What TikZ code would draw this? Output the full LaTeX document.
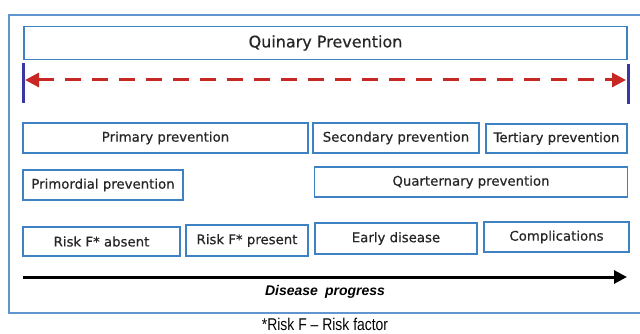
\documentclass[tikz,border=0pt]{standalone}
\usepackage{fontspec}
\setmainfont[FakeBold=0.5]{DejaVu Sans}
\newfontfamily\arialfont{Liberation Sans}
\newfontfamily\notefont[FakeStretch=0.82]{Liberation Sans}
\usetikzlibrary{arrows.meta}
\definecolor{boxblue}{RGB}{62,130,195}
\definecolor{framblue}{RGB}{95,150,205}
\definecolor{barblue}{RGB}{55,55,165}
\definecolor{dashred}{RGB}{200,40,35}

\begin{document}
\begin{tikzpicture}[x=1pt, y=-1pt,
            every node/.style = {draw=boxblue, line width=1.3pt, rectangle,
                                 inner sep=0pt, text=black!85, font=\fontsize{13.3}{16}\selectfont},
            bar/.style = {draw=barblue, line width=3pt},
            span/.style = {draw=dashred, line width=3pt, dash pattern=on 16pt off 11pt,
                           {Triangle[length=14pt,width=14pt]}-{Triangle[length=14pt,width=14pt]}},
            progress/.style = {draw=black, line width=3pt, -{Triangle[length=13pt,width=13pt]}}]
\useasboundingbox (0,0) rectangle (640,334);
\draw[framblue, line width=1.3pt] (9,15) rectangle (650,313);

\node (quinary) [minimum width=603pt, minimum height=33pt,
                 font=\fontsize{16}{20}\selectfont] at (325.5,43) {Quinary Prevention};

\coordinate (lbar top) at (23,63);
\coordinate (lbar bot) at (23,103);
\coordinate (rbar top) at (628,64);
\coordinate (rbar bot) at (628,104);
\draw[bar] (lbar top) -- (lbar bot);
\draw[bar] (rbar top) -- (rbar bot);
\coordinate (lspan) at (25,80);
\coordinate (rspan) at (626,80);
\draw[span] (lspan) -- (rspan);

\node (primary)     [minimum width=285pt, minimum height=30pt] at (165.5,138) {Primary prevention};
\node (secondary)   [minimum width=166pt, minimum height=30pt] at (396,138) {Secondary prevention};
\node (tertiary)    [minimum width=141pt, minimum height=29pt] at (556.5,138.5) {Tertiary prevention};
\node (primordial)  [minimum width=160pt, minimum height=30pt] at (103,185) {Primordial prevention};
\node (quarternary) [minimum width=313pt, minimum height=30pt] at (471,182) {Quarternary prevention};
\node (absent)      [minimum width=157pt, minimum height=29pt] at (101.5,241.5) {Risk F* absent};
\node (present)     [minimum width=122pt, minimum height=31pt] at (247,240.5) {Risk F* present};
\node (early)       [minimum width=162pt, minimum height=31pt] at (396,238.5) {Early disease};
\node (compl)       [minimum width=145pt, minimum height=30pt] at (556.5,237) {Complications};

\coordinate (start) at (23,277);
\coordinate (end) at (627,277);
\draw[progress] (start) -- (end);
\node (progresslabel) [draw=none, text=black, font=\arialfont\fontsize{14}{16}\selectfont\bfseries\itshape]
      at (325,292) {Disease\hspace{0.5em}progress};

\node (note) [draw=none, text=black, font=\notefont\fontsize{17}{20}\selectfont] at (325,324) {*Risk F – Risk factor};
\end{tikzpicture}
\end{document}
